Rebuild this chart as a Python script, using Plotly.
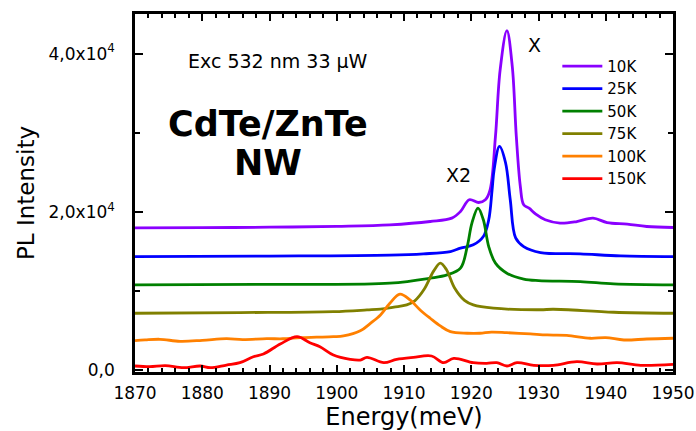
import plotly.graph_objects as go

# ---------------- data ----------------
labels = ["10K", "25K", "50K", "75K", "100K", "150K"]
colors = ["#8A00FF", "#0000FF", "#008000", "#808000", "#FF8000", "#FF0000"]

e_10K = [1870, 1880, 1890, 1900, 1907.9, 1913.9, 1917.1, 1918.4, 1919.7, 1921.1, 1922.1, 1922.8,
         1923.6, 1924.3, 1925.3, 1926.1, 1926.7, 1927.3, 1927.8, 1928.6, 1929.6, 1931, 1933.2, 1935.7,
         1938.1, 1940.2, 1943.2, 1946.1, 1950]
i_10K = [17975, 17990, 18050, 18165, 18350, 18772, 19202, 20038, 21519, 21177, 21519, 22785,
         29531, 37974, 42900, 38392, 29531, 23202, 20886, 20450, 19700, 18987, 18569, 18772,
         19202, 18643, 18440, 18140, 18012]

e_25K = [1870, 1890, 1907.9, 1912.9, 1916.9, 1918.4, 1920.3, 1921.8, 1922.6, 1923.1, 1923.4,
         1924.2, 1925.1, 1925.8, 1926.6, 1927.8, 1930.3, 1936.2, 1942.2, 1950]
i_25K = [14342, 14400, 14519, 14683, 14975, 15405, 15823, 16873, 18987, 22784, 25316,
         28265, 26202, 21519, 16700, 15607, 14848, 14683, 14430, 14342]

e_50K = [1870, 1890, 1907.9, 1913.9, 1916.4, 1918.4, 1919.4, 1920.1, 1921.0, 1921.8, 1922.6,
         1923.6, 1925.3, 1927.8, 1930, 1936.2, 1941.2, 1950]
i_50K = [10759, 10830, 10975, 11607, 12025, 12873, 15607, 18569, 20468, 18987, 15607,
         13506, 12240, 11500, 11300, 11177, 10886, 10759]

e_75K = [1870, 1885.6, 1899.5, 1904.5, 1906.5, 1908.5, 1910.4, 1911.6, 1913, 1914.4, 1915.4,
         1916.3, 1917.5, 1919, 1920.3, 1923.3, 1930.3, 1932.2, 1941.2, 1950]
i_75K = [7177, 7260, 7380, 7595, 7700, 7950, 8228, 8750, 10200, 12500, 13506,
         12700, 10400, 8800, 8228, 7810, 7620, 7683, 7304, 7177]

e_100K = [1870, 1871.5, 1873.7, 1876.7, 1880, 1883.6, 1886, 1889.6, 1892, 1894.6, 1897, 1899.5,
          1901, 1903.5, 1905, 1906.5, 1907.9, 1909.4, 1910.9, 1912.4, 1913.9, 1915.4, 1916.9,
          1919.4, 1921.3, 1923, 1925.3, 1928.8, 1931.3, 1934.2, 1937.7, 1940, 1942.7, 1946.1, 1950]
i_100K = [3709, 3800, 3886, 3633, 3750, 3962, 3850, 3962, 3950, 4089, 4150, 4215,
          4304, 4950, 5900, 6960, 8440, 9600, 8861, 7595, 6544, 5570, 4848,
          4646, 4646, 4800, 4721, 4557, 4430, 4390, 4013, 4100, 3797, 3924, 4013]

e_150K = [1870, 1872.2, 1874.5, 1877.2, 1879.7, 1881.2, 1883.6, 1885.6, 1887.6, 1889.1, 1891.6,
          1894.1, 1896, 1897.5, 1899.5, 1902, 1903.5, 1904.5, 1907, 1908.9, 1911.4, 1914.1,
          1915.9, 1917.4, 1920.3, 1922.3, 1923.8, 1925.3, 1926.8, 1929.3, 1932.2, 1935.7,
          1938.7, 1941.7, 1945.2, 1950]
i_150K = [506, 418, 550, 291, 506, 291, 633, 924, 1684, 2025, 3291,
          4215, 3456, 2950, 1899, 1354, 1266, 1608, 924, 1354, 1608, 1772,
          924, 1481, 924, 848, 924, 506, 924, 595, 595, 1051,
          760, 924, 595, 722]

energies = [e_10K, e_25K, e_50K, e_75K, e_100K, e_150K]
intensities = [i_10K, i_25K, i_50K, i_75K, i_100K, i_150K]

x_ticks = [1870, 1880, 1890, 1900, 1910, 1920, 1930, 1940, 1950]
y_ticks = [0, 20000, 40000]
y_ticktext = ["0,0", "2,0x10<sup>4</sup>", "4,0x10<sup>4</sup>"]
y_minor = [10000, 30000]

FONT = "DejaVu Sans"

fig = go.Figure()
for lab, col, e, i in zip(labels, colors, energies, intensities):
    fig.add_trace(go.Scatter(x=e, y=i, mode="lines", name=lab,
                             line=dict(color=col, width=2.8, shape="spline", smoothing=1.0)))

fig.update_layout(
    width=696, height=431,
    margin=dict(l=135, r=23, t=14, b=59),
    paper_bgcolor="white", plot_bgcolor="white",
    font=dict(family=FONT, color="black"),
    showlegend=True,
    legend=dict(x=0.785, y=0.9, xanchor="left", yanchor="top",
                font=dict(size=15, family=FONT), bgcolor="rgba(0,0,0,0)",
                tracegroupgap=0, itemwidth=40),
)

fig.update_xaxes(
    range=[1870, 1950], tickvals=x_ticks, ticks="inside", ticklen=7, tickwidth=2,
    tickcolor="black", showline=True, linewidth=2.5, linecolor="black", mirror="ticks",
    showgrid=False, zeroline=False, tickfont=dict(size=17, family=FONT),
    ticklabelstandoff=4,
    minor=dict(dtick=2, ticks="inside", ticklen=4, tickwidth=1.5, tickcolor="black", showgrid=False),
    title=dict(text="Energy(meV)", font=dict(size=24, family=FONT), standoff=4),
    automargin=False,
)
fig.update_yaxes(
    range=[-250, 45000], tickvals=y_ticks, ticktext=y_ticktext, ticks="inside", ticklen=8,
    tickwidth=2, tickcolor="black", showline=True, linewidth=2.5, linecolor="black",
    mirror="ticks", showgrid=False, zeroline=False, tickfont=dict(size=17, family=FONT),
    ticklabelstandoff=14,
    minor=dict(tickvals=y_minor, ticks="inside", ticklen=5, tickwidth=2, tickcolor="black", showgrid=False),
    title=dict(text="PL Intensity", font=dict(size=23, family=FONT), standoff=8),
    automargin=False,
)

def px_ann(text, x, y, size, bold=False):
    fig.add_annotation(text=(f"<b>{text}</b>" if bold else text),
                       xref="paper", yref="paper",
                       x=(x - 135) / 538, y=(372 - y) / 358,
                       showarrow=False, xanchor="center", yanchor="middle",
                       font=dict(size=size, family=FONT, color="black"))

px_ann("Exc 532 nm 33 \u00b5W", 278, 61, 19)
px_ann("CdTe/ZnTe", 268, 124, 35, bold=True)
px_ann("NW", 268, 163, 35, bold=True)
px_ann("X", 534, 45, 19)
px_ann("X2", 458, 175, 19)

fig.write_html("out.html")
